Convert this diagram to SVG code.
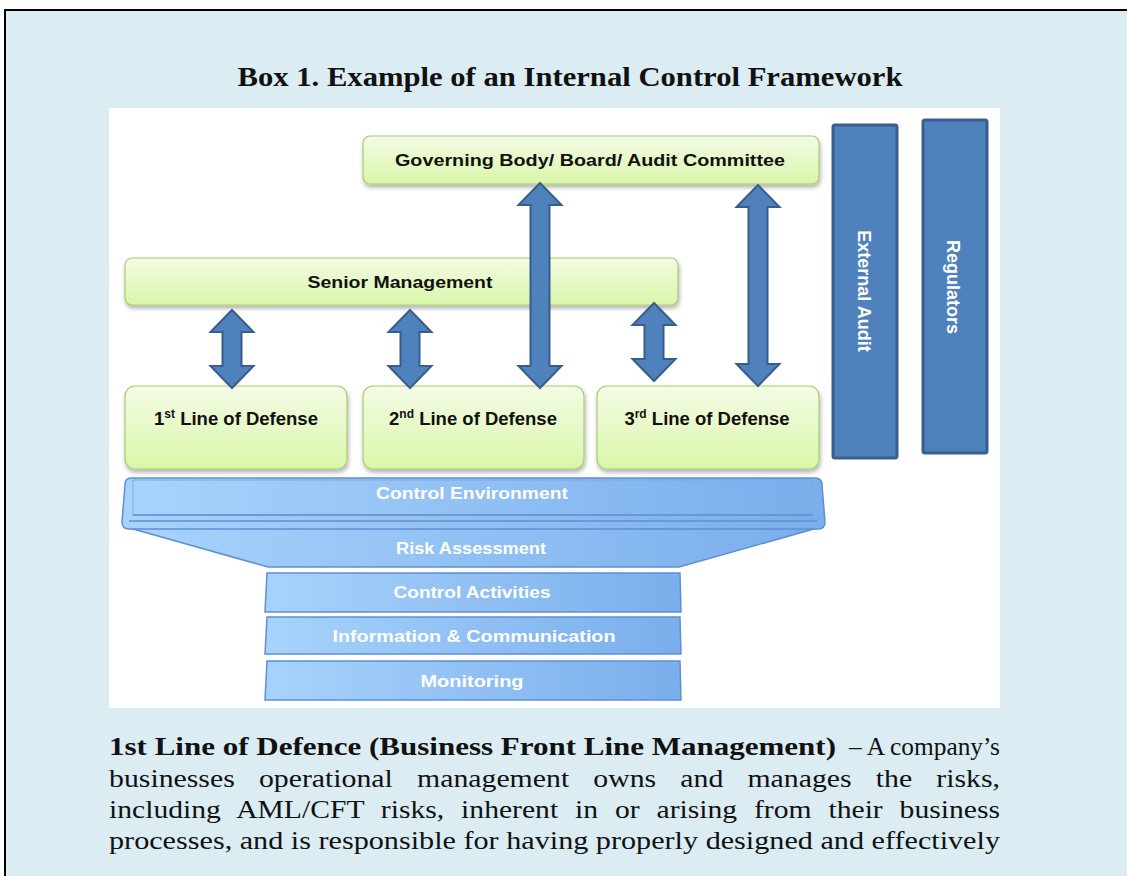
<svg xmlns="http://www.w3.org/2000/svg" width="1127" height="876" viewBox="0 0 1127 876">
<style>
.green{fill:url(#gGreen);stroke:#A9CB72;stroke-width:1.2;filter:url(#shadow)}
.gtext{font-family:"Liberation Sans",Arial,sans-serif;font-weight:bold;font-size:17px;fill:#111;text-anchor:middle}
.ltext{font-family:"Liberation Sans",Arial,sans-serif;font-weight:bold;font-size:18.5px;fill:#111;text-anchor:middle}
.blue{fill:url(#gBlue);stroke:#5F8FD2;stroke-width:1.5}
.btext{font-family:"Liberation Sans",Arial,sans-serif;font-weight:bold;font-size:16.5px;fill:#fff;text-anchor:middle}
.arrow{fill:#4F81BD;stroke:#385D8A;stroke-width:2;stroke-linejoin:miter}
.side{fill:#4F81BD;stroke:#3A5F8E;stroke-width:3}
.stext{font-family:"Liberation Sans",Arial,sans-serif;font-weight:bold;font-size:18px;fill:#fff;text-anchor:middle}
.body{font-family:"Liberation Serif","Times New Roman",serif;font-size:25px;fill:#111}
</style>
<defs>
<linearGradient id="gGreen" x1="0" y1="0" x2="0" y2="1">
<stop offset="0" stop-color="#F4FBE6"/>
<stop offset="1" stop-color="#D9F6A9"/>
</linearGradient>
<linearGradient id="gBlue" x1="0" y1="0" x2="1" y2="0">
<stop offset="0" stop-color="#A7D3FB"/>
<stop offset="1" stop-color="#7AAEEC"/>
</linearGradient>
<filter id="shadow" x="-10%" y="-20%" width="120%" height="150%">
<feDropShadow dx="1" dy="3" stdDeviation="2" flood-color="#000" flood-opacity="0.3"/>
</filter>
</defs>

<!-- frame -->
<rect x="0" y="0" width="1127" height="876" fill="#fff"/>
<rect x="5" y="10" width="1123" height="867" fill="#DBEDF3"/>
<line x1="4" y1="10" x2="1127" y2="10" stroke="#000" stroke-width="2"/>
<line x1="5" y1="10" x2="5" y2="876" stroke="#000" stroke-width="2"/>

<text x="570" y="86" text-anchor="middle" textLength="665" lengthAdjust="spacingAndGlyphs" style="font-family:'Liberation Serif','Times New Roman',serif;font-weight:bold;font-size:27px;fill:#111">Box 1. Example of an Internal Control Framework</text>

<rect x="109" y="108" width="891" height="600" fill="#fff"/>

<!-- Nodes -->
<g id="governing">
<rect class="green" x="363" y="136" width="456" height="48" rx="7"/>
<text class="gtext" x="590" y="166" textLength="390" lengthAdjust="spacingAndGlyphs">Governing Body/ Board/ Audit Committee</text>
</g>
<g id="senior">
<rect class="green" x="125" y="258" width="553" height="47" rx="7"/>
<text class="gtext" x="400" y="288" textLength="185" lengthAdjust="spacingAndGlyphs">Senior Management</text>
</g>
<g id="line1">
<rect class="green" x="125" y="386" width="222" height="83" rx="10"/>
<text class="ltext" x="236" y="425">1<tspan font-size="12" dy="-7">st</tspan><tspan dy="7"> Line of Defense</tspan></text>
</g>
<g id="line2">
<rect class="green" x="363" y="386" width="221" height="83" rx="10"/>
<text class="ltext" x="473" y="425">2<tspan font-size="12" dy="-7">nd</tspan><tspan dy="7"> Line of Defense</tspan></text>
</g>
<g id="line3">
<rect class="green" x="597" y="386" width="222" height="83" rx="10"/>
<text class="ltext" x="707" y="425">3<tspan font-size="12" dy="-7">rd</tspan><tspan dy="7"> Line of Defense</tspan></text>
</g>

<g id="risk-assessment">
<path class="blue" d="M126,527 L821,527 L679,567 L268,567 Z"/>
<text class="btext" x="471" y="554" textLength="150" lengthAdjust="spacingAndGlyphs">Risk Assessment</text>
</g>
<g id="control-environment">
<path class="blue" d="M131,478 L815,478 Q822,478 822,485 L825,522 Q825,529 818,529 L129,529 Q122,529 122,522 L125,485 Q125,478 131,478 Z"/>
<rect x="133" y="480" width="680" height="35" fill="url(#gBlue)" stroke="#7FA9DE" stroke-width="1"/>
<line x1="133" y1="515" x2="813" y2="515" stroke="#5F8FD2" stroke-width="1.5"/>
<line x1="129" y1="521" x2="817" y2="521" stroke="#5F8FD2" stroke-width="1.5"/>
<text class="btext" x="472" y="499" textLength="192" lengthAdjust="spacingAndGlyphs">Control Environment</text>
</g>
<g id="control-activities">
<path class="blue" d="M267,573 L680,573 L681,612 L265,612 Z"/>
<text class="btext" x="472" y="598" textLength="157" lengthAdjust="spacingAndGlyphs">Control Activities</text>
</g>
<g id="info-comm">
<path class="blue" d="M267,617 L680,617 L681,654 L265,654 Z"/>
<text class="btext" x="474" y="642" textLength="283" lengthAdjust="spacingAndGlyphs">Information &amp; Communication</text>
</g>
<g id="monitoring">
<path class="blue" d="M267,661 L680,661 L681,700 L265,700 Z"/>
<text class="btext" x="472" y="687" textLength="103" lengthAdjust="spacingAndGlyphs">Monitoring</text>
</g>

<g id="external-audit">
<rect class="side" x="833" y="125" width="64" height="333" rx="2"/>
<text class="stext" transform="translate(858,291) rotate(90)">External Audit</text>
</g>
<g id="regulators">
<rect class="side" x="923" y="120" width="64" height="333" rx="2"/>
<text class="stext" transform="translate(947,287) rotate(90)">Regulators</text>
</g>

<!-- Connectors -->
<g id="connectors">
<path class="arrow" d="M232,310 L253.5,332 L241.5,332 L241.5,366 L253.5,366 L232,388 L210.5,366 L222.5,366 L222.5,332 L210.5,332 Z"/>
<path class="arrow" d="M410,310 L431.5,332 L419.5,332 L419.5,366 L431.5,366 L410,388 L388.5,366 L400.5,366 L400.5,332 L388.5,332 Z"/>
<path class="arrow" d="M540,183 L561.5,205 L549.5,205 L549.5,366 L561.5,366 L540,388 L518.5,366 L530.5,366 L530.5,205 L518.5,205 Z"/>
<path class="arrow" d="M654,303 L675.5,325 L663.5,325 L663.5,359 L675.5,359 L654,381 L632.5,359 L644.5,359 L644.5,325 L632.5,325 Z"/>
<path class="arrow" d="M758,185 L779.5,207 L767.5,207 L767.5,364 L779.5,364 L758,386 L736.5,364 L748.5,364 L748.5,207 L736.5,207 Z"/>
</g>

<!-- body text -->
<text class="body" y="755"><tspan x="109" font-weight="bold" textLength="727" lengthAdjust="spacingAndGlyphs">1st Line of Defence (Business Front Line Management)</tspan><tspan x="849" textLength="151" lengthAdjust="spacingAndGlyphs">– A company’s</tspan></text>
<text class="body" x="109" y="787" word-spacing="14" textLength="891" lengthAdjust="spacingAndGlyphs">businesses operational management owns and manages the risks,</text>
<text class="body" x="109" y="818" word-spacing="8" textLength="891" lengthAdjust="spacingAndGlyphs">including AML/CFT risks, inherent in or arising from their business</text>
<text class="body" x="109" y="849" textLength="891" lengthAdjust="spacingAndGlyphs">processes, and is responsible for having properly designed and effectively</text>
</svg>
